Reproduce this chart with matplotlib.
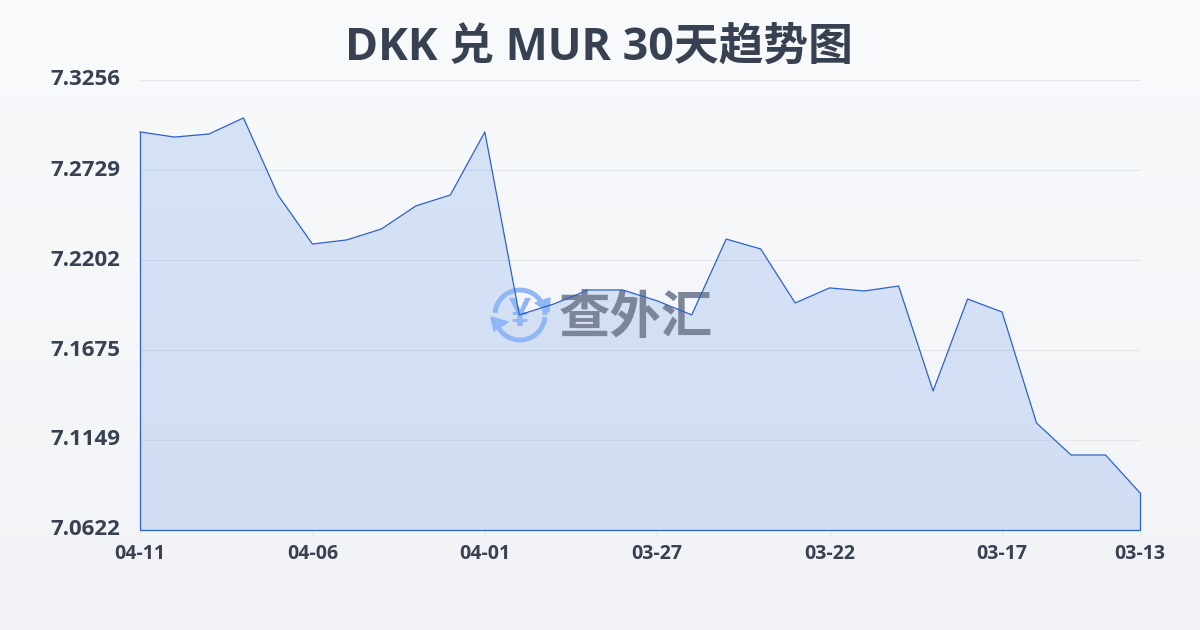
import matplotlib
matplotlib.use('Agg')
import matplotlib.pyplot as plt
from matplotlib.patches import Arc, Polygon
import numpy as np

plt.rcParams['font.family'] = ['Open Sans', 'Noto Sans CJK SC', 'DejaVu Sans']

dates = ['04-11', '04-10', '04-09', '04-08', '04-07', '04-06', '04-05', '04-04', '04-03', '04-02',
         '04-01', '03-31', '03-30', '03-29', '03-28', '03-27', '03-26', '03-25', '03-24', '03-23',
         '03-22', '03-21', '03-20', '03-19', '03-18', '03-17', '03-16', '03-15', '03-14', '03-13']
rates = [7.2952, 7.2922, 7.2940, 7.3034, 7.2583, 7.2296, 7.2320, 7.2384, 7.2519, 7.2583,
         7.2952, 7.1881, 7.1945, 7.2027, 7.2027, 7.1963, 7.1881, 7.2325, 7.2267, 7.1951,
         7.2039, 7.2021, 7.2050, 7.1436, 7.1974, 7.1898, 7.1248, 7.1061, 7.1061, 7.0839]
y_ticks = [7.0622, 7.1149, 7.1675, 7.2202, 7.2729, 7.3256]
x_tick_labels = ['04-11', '04-06', '04-01', '03-27', '03-22', '03-17', '03-13']

text_color = '#374151'
line_color = '#2f62c8'
grid_color = '#e3e6eb'

fig = plt.figure(figsize=(12, 6.3), dpi=100)

# background gradient
bg = fig.add_axes([0, 0, 1, 1], zorder=0)
top = np.array([248, 250, 252]) / 255
bottom = np.array([242, 243, 246]) / 255
grad = np.linspace(0, 1, 256)[:, None, None] * (bottom - top) + top
bg.imshow(grad, aspect='auto', extent=[0, 1200, 630, 0])
bg.set_xlim(0, 1200)
bg.set_ylim(630, 0)
bg.axis('off')

ax = fig.add_axes([140 / 1200, 1 - 530 / 630, 1000 / 1200, 450 / 630], zorder=1)
ax.patch.set_alpha(0)
x = np.arange(len(dates))
tick_pos = [dates.index(d) for d in x_tick_labels]

ax.set_xlim(0, len(dates) - 1)
ax.set_ylim(y_ticks[0], y_ticks[-1])
ax.grid(axis='y', color=grid_color, linewidth=0.8, zorder=1, clip_on=False)
ax.set_axisbelow(True)
for s in ax.spines.values():
    s.set_visible(False)

ax.fill_between(x, rates, y_ticks[0], facecolor=(0.15, 0.42, 0.88, 0.155),
                edgecolor='none', zorder=2)
# sides and bottom of the area
ax.plot([x[-1], x[-1], x[0], x[0]], [rates[-1], y_ticks[0], y_ticks[0], rates[0]],
        color=line_color, linewidth=0.9, clip_on=False, zorder=5, solid_joinstyle='miter')

ax.set_yticks(y_ticks)
ax.set_yticklabels([f'{v:.4f}' for v in y_ticks], fontsize=16, fontweight='bold', color=text_color,
                   va='center')
ax.set_xticks(tick_pos)
ax.set_xticklabels(x_tick_labels, fontsize=14, fontweight='bold', color=text_color)
ax.tick_params(axis='y', length=0, pad=14)
ax.tick_params(axis='x', length=5, width=0.8, color=grid_color, pad=5)

# title and watermark on a pixel-coordinate overlay
over = fig.add_axes([0, 0, 1, 1], zorder=2)
over.set_xlim(0, 1200)
over.set_ylim(630, 0)
over.axis('off')
over.patch.set_alpha(0)

over.text(599, 48, 'DKK 兑 MUR 30天趋势图', ha='center', va='center', fontsize=32.2,
          fontweight='bold', color=text_color)

logo = '#8fb6f5'
over.text(636, 317, '查外汇', ha='center', va='center', fontsize=37, fontweight='black',
          family='Noto Sans CJK SC', color='#7d8698', zorder=3)
over.add_patch(Arc((520, 315), 50, 50, theta1=185, theta2=330, color=logo, linewidth=3.5, zorder=3))
over.add_patch(Arc((520, 315), 50, 50, theta1=345, theta2=360, color=logo, linewidth=3.5, zorder=3))
over.add_patch(Arc((520, 315), 50, 50, theta1=5, theta2=160, color=logo, linewidth=3.5, zorder=3))
over.add_patch(Polygon([[491, 317], [508, 322], [494, 331]], color=logo, zorder=3))
over.add_patch(Polygon([[535, 303], [550, 298], [549, 312]], color=logo, zorder=3))
over.text(520, 315, '¥', ha='center', va='center', fontsize=28, fontweight='bold',
          color=logo, zorder=3)

# blue line has to stay above the watermark
over.plot(140 + x * 1000 / 29,
          530 - (np.array(rates) - y_ticks[0]) / (y_ticks[-1] - y_ticks[0]) * 450,
          color=line_color, linewidth=0.9, zorder=4)

fig.savefig('out.png', dpi=100)
plt.close()
